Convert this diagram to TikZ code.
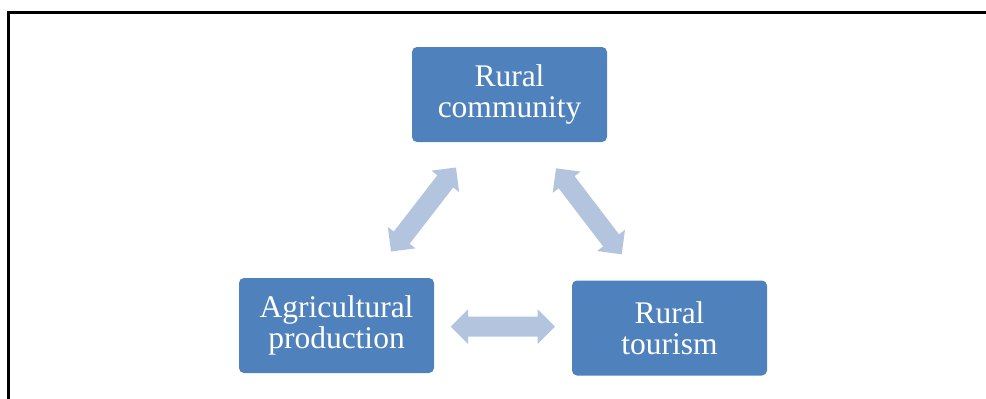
\documentclass[tikz,border=0pt]{standalone}
\usepackage{fontspec}
\setmainfont{Liberation Serif}
\usetikzlibrary{calc}
\definecolor{boxblue}{HTML}{4F81BD}
\definecolor{arrowblue}{HTML}{B3C4DF}
\newcommand\myblockarrow[2]{%
  \fill[arrowblue] (#1)
    -- ($(#1)!17.5pt!(#2)!17.5pt!90:(#2)$)
    -- ($(#1)!17.5pt!(#2)!10pt!90:(#2)$)
    -- ($(#2)!17.5pt!(#1)!10pt!-90:(#1)$)
    -- ($(#2)!17.5pt!(#1)!17.5pt!-90:(#1)$)
    -- (#2)
    -- ($(#2)!17.5pt!(#1)!17.5pt!90:(#1)$)
    -- ($(#2)!17.5pt!(#1)!10pt!90:(#1)$)
    -- ($(#1)!17.5pt!(#2)!10pt!-90:(#2)$)
    -- ($(#1)!17.5pt!(#2)!17.5pt!-90:(#2)$)
    -- cycle;}
\begin{document}
\begin{tikzpicture}[x=1pt,y=-1pt,
  box/.style={fill=boxblue, rounded corners=5pt, minimum width=195pt,
    minimum height=95pt, text=white, align=center, inner sep=0pt,
    font=\fontsize{31.5}{31.5}\selectfont},
  frame/.style={line width=3pt, draw=black}]
\useasboundingbox (0,0) rectangle (986,399);
\clip (0,0) rectangle (986,399);
\draw[frame] (8.5,420) -- (8.5,12.5) -- (1010,12.5);
\node[box] (comm) at (509.5,94.5) {Rural\\community};
\node[box] (agri) at (336.5,325.5) {Agricultural\\production};
\node[box] (tour) at (669.5,328) {Rural\\tourism};
\coordinate (l1) at (391,251.5);
\coordinate (l2) at (456,167.5);
\coordinate (r1) at (556,168.3);
\coordinate (r2) at (621.7,254.3);
\coordinate (h1) at (450.7,326.7);
\coordinate (h2) at (555,326.7);
\myblockarrow{l1}{l2}
\myblockarrow{r1}{r2}
\myblockarrow{h1}{h2}
\end{tikzpicture}
\end{document}
